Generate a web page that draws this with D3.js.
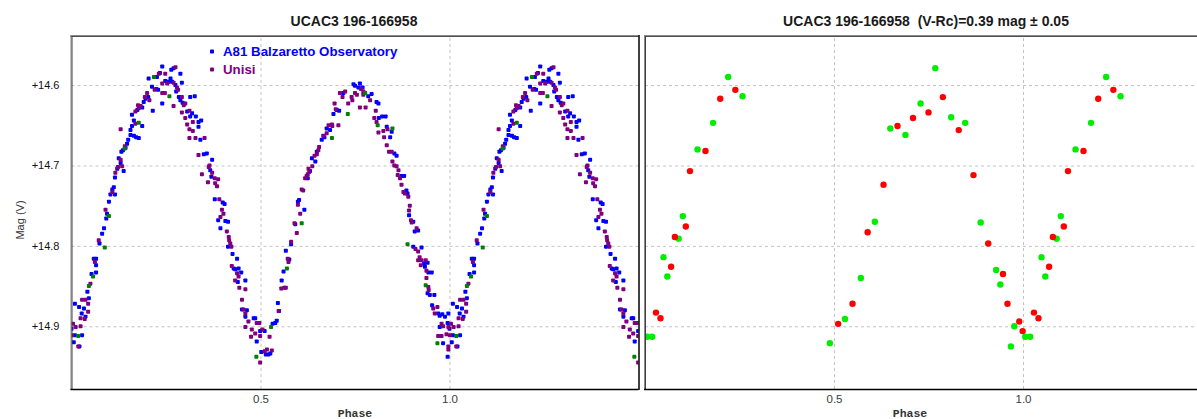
<!DOCTYPE html>
<html>
<head>
<meta charset="utf-8">
<script src="https://cdn.jsdelivr.net/npm/d3@7"></script>
<style>
  html, body { margin: 0; padding: 0; background: #fff; }
  svg { display: block; }
  text { font-family: "Liberation Sans", Arial, sans-serif; }
</style>
</head>
<body>
<svg id="chart" width="1197" height="419"></svg>
<script>
// ---------------- DATA (phase 0..1, V magnitude) ----------------
const leftTitle = "UCAC3 196-166958";
const rightTitle = "UCAC3 196-166958  (V-Rc)=0.39 mag \u00b1 0.05";
const legendNames = ["A81 Balzaretto Observatory", "Unisi"];
const yTicks = [14.6, 14.7, 14.8, 14.9];
const xTicks = [0.5, 1.0];

// A81 Balzaretto Observatory (blue)
const balzaretto = [
[0.000,14.903],[0.009,14.911],[0.028,14.911],[0.006,14.920],[0.021,14.925],[0.009,14.872],[0.020,14.876],[0.046,14.865],[0.033,14.878],[0.037,14.888],
[0.027,14.884],[0.042,14.857],[0.053,14.835],[0.065,14.833],[0.059,14.816],[0.065,14.816],[0.065,14.824],[0.074,14.797],[0.081,14.785],[0.086,14.778],
[0.094,14.760],[0.092,14.766],[0.099,14.745],[0.103,14.736],[0.108,14.730],[0.112,14.727],[0.115,14.736],[0.115,14.715],[0.121,14.704],[0.130,14.697],
[0.125,14.691],[0.138,14.707],[0.132,14.683],[0.136,14.681],[0.143,14.678],[0.147,14.673],[0.150,14.668],[0.156,14.662],[0.165,14.663],[0.171,14.665],
[0.178,14.666],[0.156,14.656],[0.160,14.651],[0.187,14.651],[0.165,14.644],[0.160,14.637],[0.174,14.631],[0.187,14.628],[0.191,14.621],[0.196,14.617],
[0.203,14.615],[0.215,14.632],[0.204,14.592],[0.226,14.590],[0.240,14.577],[0.234,14.585],[0.224,14.605],[0.213,14.602],[0.229,14.606],[0.248,14.595],
[0.257,14.596],[0.264,14.581],[0.270,14.579],[0.262,14.592],[0.240,14.623],[0.266,14.596],[0.275,14.600],[0.288,14.586],[0.292,14.597],[0.277,14.608],
[0.284,14.615],[0.288,14.619],[0.294,14.622],[0.326,14.614],[0.314,14.615],[0.306,14.633],[0.319,14.635],[0.314,14.639],[0.329,14.639],[0.336,14.646],
[0.343,14.644],[0.336,14.652],[0.341,14.668],[0.350,14.686],[0.358,14.685],[0.372,14.693],[0.367,14.706],[0.370,14.714],[0.379,14.742],[0.400,14.746],
[0.405,14.748],[0.388,14.768],[0.407,14.769],[0.414,14.770],[0.394,14.778],[0.414,14.801],[0.426,14.810],[0.438,14.816],[0.429,14.828],[0.433,14.829],
[0.442,14.828],[0.449,14.833],[0.440,14.845],[0.460,14.843],[0.451,14.879],[0.464,14.880],[0.460,14.888],[0.482,14.890],
[0.486,14.890],[0.499,14.906],[0.511,14.906],[0.490,14.919],[0.502,14.932],[0.514,14.935],[0.521,14.935],[0.526,14.934],[0.532,14.897],[0.539,14.896],
[0.543,14.893],[0.546,14.871],[0.549,14.881],[0.556,14.843],[0.561,14.832],[0.576,14.817],[0.567,14.806],[0.581,14.798],[0.592,14.773],[0.616,14.755],
[0.599,14.745],[0.602,14.743],[0.625,14.716],[0.631,14.707],[0.636,14.691],[0.645,14.695],[0.649,14.683],[0.662,14.668],[0.669,14.665],[0.675,14.654],
[0.684,14.656],[0.702,14.631],[0.708,14.632],[0.693,14.636],[0.719,14.610],[0.746,14.599],[0.750,14.601],[0.763,14.598],[0.759,14.603],[0.770,14.603],
[0.785,14.614],[0.794,14.611],[0.807,14.621],[0.812,14.623],[0.813,14.641],[0.822,14.639],[0.831,14.639],[0.834,14.652],[0.847,14.658],[0.843,14.665],
[0.854,14.685],[0.860,14.688],[0.873,14.713],[0.880,14.713],[0.886,14.731],[0.889,14.735],[0.893,14.762],[0.904,14.770],[0.908,14.782],[0.917,14.781],
[0.904,14.801],[0.926,14.802],[0.933,14.822],[0.942,14.821],[0.935,14.826],[0.944,14.833],[0.953,14.833],[0.942,14.859],[0.948,14.861],[0.960,14.861],
[0.954,14.874],[0.970,14.884],[0.974,14.887],[0.981,14.885],[0.988,14.888],[0.997,14.884],[0.974,14.901],[0.995,14.896],[0.983,14.921],[0.995,14.938]
];

// Unisi (purple)
const unisi = [
[0.004,14.897],[0.011,14.901],[0.024,14.900],[0.001,14.911],[0.018,14.925],[0.028,14.867],[0.037,14.867],[0.044,14.872],[0.044,14.882],[0.024,14.890],
[0.035,14.891],[0.050,14.847],[0.062,14.820],[0.072,14.793],[0.090,14.755],[0.108,14.733],[0.116,14.709],[0.123,14.702],[0.130,14.693],[0.134,14.701],
[0.141,14.676],[0.130,14.655],[0.169,14.648],[0.169,14.633],[0.178,14.629],[0.183,14.626],[0.176,14.625],[0.194,14.615],[0.200,14.610],[0.206,14.619],
[0.231,14.586],[0.240,14.598],[0.220,14.606],[0.253,14.598],[0.275,14.578],[0.248,14.586],[0.240,14.610],[0.247,14.610],[0.270,14.597],[0.279,14.603],
[0.282,14.606],[0.270,14.626],[0.292,14.615],[0.297,14.625],[0.301,14.623],[0.292,14.634],[0.312,14.632],[0.301,14.641],[0.321,14.646],[0.306,14.649],
[0.312,14.655],[0.321,14.657],[0.312,14.666],[0.328,14.666],[0.352,14.666],[0.336,14.687],[0.365,14.700],[0.372,14.709],[0.363,14.702],[0.345,14.711],
[0.379,14.716],[0.388,14.717],[0.361,14.721],[0.380,14.722],[0.385,14.726],[0.391,14.742],[0.398,14.755],[0.402,14.760],[0.394,14.764],[0.411,14.782],
[0.416,14.789],[0.417,14.793],[0.420,14.797],[0.423,14.801],[0.424,14.825],[0.438,14.834],[0.442,14.838],[0.433,14.843],[0.444,14.852],[0.460,14.854],
[0.451,14.867],[0.455,14.879],[0.460,14.884],[0.468,14.894],[0.460,14.901],[0.477,14.904],[0.475,14.913],
[0.490,14.896],[0.497,14.896],[0.505,14.904],[0.486,14.909],[0.499,14.912],[0.511,14.931],[0.530,14.930],[0.517,14.929],[0.499,14.945],[0.524,14.913],
[0.548,14.881],[0.555,14.853],[0.563,14.852],[0.567,14.852],[0.574,14.820],[0.572,14.816],[0.581,14.795],[0.596,14.784],[0.590,14.772],[0.605,14.760],
[0.599,14.749],[0.609,14.730],[0.613,14.731],[0.618,14.716],[0.622,14.713],[0.625,14.711],[0.629,14.708],[0.627,14.704],[0.637,14.701],[0.643,14.688],
[0.649,14.686],[0.653,14.681],[0.655,14.677],[0.666,14.663],[0.675,14.660],[0.680,14.650],[0.689,14.649],[0.706,14.650],[0.690,14.651],[0.696,14.623],
[0.699,14.630],[0.710,14.610],[0.724,14.608],[0.717,14.615],[0.732,14.623],[0.741,14.615],[0.743,14.619],[0.750,14.610],[0.755,14.612],[0.766,14.605],
[0.772,14.608],[0.772,14.612],[0.763,14.628],[0.778,14.628],[0.790,14.619],[0.805,14.632],[0.801,14.641],[0.807,14.646],[0.812,14.659],[0.825,14.657],
[0.836,14.655],[0.827,14.665],[0.834,14.675],[0.840,14.683],[0.847,14.683],[0.849,14.695],[0.854,14.700],[0.860,14.701],[0.865,14.706],[0.863,14.712],
[0.869,14.716],[0.873,14.724],[0.878,14.733],[0.882,14.735],[0.891,14.739],[0.895,14.750],[0.893,14.756],[0.898,14.768],[0.900,14.771],[0.913,14.778],
[0.910,14.804],[0.917,14.807],[0.921,14.814],[0.917,14.818],[0.926,14.818],[0.937,14.818],[0.924,14.824],[0.939,14.831],[0.939,14.840],[0.944,14.851],
[0.945,14.855],[0.957,14.878],[0.961,14.884],[0.968,14.876],[0.979,14.897],[0.983,14.900],[0.997,14.901],[0.970,14.912],[0.979,14.912],[0.992,14.910],
[0.997,14.925],[0.997,14.929]
];

// third observer (green, not in legend)
const thirdObserver = [
[0.018,14.912],[0.046,14.850],[0.057,14.838],[0.088,14.802],[0.099,14.763],[0.141,14.679],[0.178,14.647],[0.218,14.590],[0.259,14.614],
[0.489,14.938],[0.528,14.901],[0.570,14.828],[0.609,14.772],[0.689,14.666],[0.731,14.636],[0.777,14.610],[0.810,14.650],[0.849,14.654],
[0.889,14.798],[0.937,14.849],[0.968,14.921]
];

// colour index panel: V (green) and Rc-shifted (red)
const colourGreen = [
[0.220,14.590],[0.258,14.614],[0.180,14.647],[0.139,14.680],[0.768,14.579],[0.729,14.623],[0.810,14.640],[0.847,14.647],[0.649,14.654],[0.689,14.662],
[0.100,14.763],[0.089,14.791],[0.049,14.814],[0.059,14.838],[0.006,14.913],[0.019,14.913],[0.608,14.770],[0.571,14.840],[0.529,14.891],[0.489,14.921],
[0.888,14.771],[0.929,14.830],[0.940,14.848],[0.977,14.900],[0.968,14.925]
];
const colourRed = [
[0.239,14.606],[0.199,14.617],[0.160,14.682],[0.119,14.707],[0.788,14.615],[0.750,14.634],[0.709,14.641],[0.830,14.656],[0.668,14.651],[0.631,14.724],
[0.869,14.712],[0.108,14.776],[0.079,14.789],[0.069,14.826],[0.029,14.883],[0.041,14.890],[0.589,14.783],[0.549,14.872],[0.511,14.897],[0.908,14.797],
[0.947,14.835],[0.959,14.872],[0.990,14.894],[0.999,14.906]
];

// ---------------- DRAWING ----------------
const svg = d3.select("#chart");
svg.append("rect").attr("width", 1197).attr("height", 419).attr("fill", "#fff");

const plotTop = 36, plotBottom = 389;
const y = d3.scaleLinear().domain([14.539, 14.978]).range([plotTop, plotBottom]);
const xL = d3.scaleLinear().domain([0, 1.5]).range([71.5, 638.5]);
const xR = d3.scaleLinear().domain([0, 1.5]).range([645, 1212]);

// phase-folded light curves are shown over 0..1.5: repeat each point one cycle later
function wrap(data) {
  const out = [];
  data.forEach(d => {
    out.push([d[0], d[1]]);
    if (d[0] + 1 <= 1.5) out.push([d[0] + 1, d[1]]);
  });
  return out;
}

function panel(x, opts) {
  const g = svg.append("g");
  const [x0, x1] = x.range();
  const right = Math.min(x1, 1197);

  const clipId = "clip" + Math.round(x0);
  svg.append("clipPath").attr("id", clipId)
    .append("rect").attr("x", x0).attr("y", plotTop).attr("width", x1 - x0).attr("height", plotBottom - plotTop);

  // horizontal grid
  g.append("g")
    .attr("transform", `translate(${x0},0)`)
    .call(d3.axisLeft(y).tickValues(yTicks).tickSize(-(x1 - x0)).tickFormat(""))
    .call(s => s.select(".domain").remove())
    .call(s => s.selectAll("line").attr("stroke", "#c4c4c4").attr("stroke-dasharray", "3,3"));
  // vertical grid
  g.append("g")
    .attr("transform", `translate(0,${plotBottom})`)
    .call(d3.axisBottom(x).tickValues(xTicks).tickSize(-(plotBottom - plotTop)).tickFormat(""))
    .call(s => s.select(".domain").remove())
    .call(s => s.selectAll("line").attr("stroke", "#c4c4c4").attr("stroke-dasharray", "3,3"));

  // x tick labels
  g.append("g")
    .attr("transform", `translate(0,${plotBottom})`)
    .call(d3.axisBottom(x).tickValues(xTicks).tickSize(0).tickPadding(6).tickFormat(d3.format(".1f")))
    .call(s => s.select(".domain").remove())
    .call(s => s.selectAll("text").attr("font-size", "11.5px").attr("fill", "#3a3a3a")
      .attr("font-family", "'Liberation Sans', Arial, sans-serif"));

  // y tick labels (left panel only)
  if (opts.yLabels) {
    g.append("g")
      .attr("transform", `translate(${x0 - 12},0)`)
      .call(d3.axisLeft(y).tickValues(yTicks).tickSize(0).tickPadding(0).tickFormat(d => "+" + d.toFixed(1)))
      .call(s => s.select(".domain").remove())
      .call(s => s.selectAll("text").attr("font-size", "11px").attr("fill", "#111")
        .attr("font-family", "'Liberation Sans', Arial, sans-serif"));
  }

  // x axis title
  g.append("text")
    .attr("x", opts.phaseX).attr("y", 417)
    .attr("text-anchor", "middle")
    .style("font-family", "'Liberation Mono', 'DejaVu Sans Mono', monospace")
    .style("font-weight", "bold").style("font-size", "11.5px").attr("fill", "#333")
    .text("Phase");

  // panel title
  g.append("text")
    .attr("x", opts.titleX).attr("y", 26)
    .attr("text-anchor", "middle")
    .style("font-weight", "bold").style("font-size", "14px").attr("fill", "#1a1a1a")
    .style("white-space", "pre").attr("xml:space", "preserve")
    .text(opts.title);

  // data
  const dg = g.append("g").attr("clip-path", `url(#${clipId})`);
  opts.draw(dg);

  // frame (sunken look: grey top/left, black right/bottom)
  g.append("line").attr("x1", x0 - 1).attr("x2", right).attr("y1", plotTop - 0.5).attr("y2", plotTop - 0.5).attr("stroke", "#8a8a8a").attr("stroke-width", 1);
  g.append("line").attr("x1", x0 - 1).attr("x2", right).attr("y1", plotTop + 0.5).attr("y2", plotTop + 0.5).attr("stroke", "#505050").attr("stroke-width", 1);
  g.append("line").attr("x1", x0 - 0.5).attr("x2", x0 - 0.5).attr("y1", plotTop - 1).attr("y2", plotBottom + 1).attr("stroke", "#8a8a8a").attr("stroke-width", 1);
  g.append("line").attr("x1", x0 + 0.5).attr("x2", x0 + 0.5).attr("y1", plotTop).attr("y2", plotBottom).attr("stroke", "#404040").attr("stroke-width", 1);
  g.append("line").attr("x1", x0 - 1).attr("x2", right).attr("y1", plotBottom + 0.5).attr("y2", plotBottom + 0.5).attr("stroke", "#000").attr("stroke-width", 1.5);
  if (x1 <= 1197) {
    g.append("line").attr("x1", x1 + 0.5).attr("x2", x1 + 0.5).attr("y1", plotTop - 1).attr("y2", plotBottom + 1).attr("stroke", "#000").attr("stroke-width", 1.5);
  }
}

function squares(g, x, data, color) {
  g.selectAll(null).data(wrap(data)).enter().append("rect")
    .attr("x", d => x(d[0]) - 2).attr("y", d => y(d[1]) - 2)
    .attr("width", 4).attr("height", 4).attr("rx", 0.8)
    .attr("fill", color);
}
function dots(g, x, data, color) {
  g.selectAll(null).data(wrap(data)).enter().append("circle")
    .attr("cx", d => x(d[0])).attr("cy", d => y(d[1])).attr("r", 3.2)
    .attr("fill", color);
}

// Left panel: light curve
panel(xL, {
  yLabels: true, title: leftTitle, titleX: 354, phaseX: 355,
  draw: g => {
    squares(g, xL, balzaretto, "#0000ff");
    squares(g, xL, unisi, "#800080");
    squares(g, xL, thirdObserver, "#008000");
  }
});

// Right panel: colour index
panel(xR, {
  yLabels: false, title: rightTitle, titleX: 926, phaseX: 910,
  draw: g => {
    dots(g, xR, colourGreen, "#00ee00");
    dots(g, xR, colourRed, "#ff0000");
  }
});

// y axis title
svg.append("text")
  .attr("transform", "translate(24,220) rotate(-90)")
  .attr("text-anchor", "middle")
  .style("font-size", "11px").attr("fill", "#333")
  .text("Mag (V)");

// legend
const legendColors = ["#0000ff", "#800080"];
const legend = svg.append("g");
legendNames.forEach((name, i) => {
  const ly = 51.5 + i * 18;
  legend.append("rect").attr("x", 210).attr("y", ly - 2).attr("width", 4).attr("height", 4)
    .attr("rx", 0.8).attr("fill", legendColors[i]);
  legend.append("text").attr("x", 223).attr("y", ly + 4.5)
    .style("font-weight", "bold").style("font-size", "13.3px")
    .attr("fill", legendColors[i]).text(name);
});
</script>
</body>
</html>
